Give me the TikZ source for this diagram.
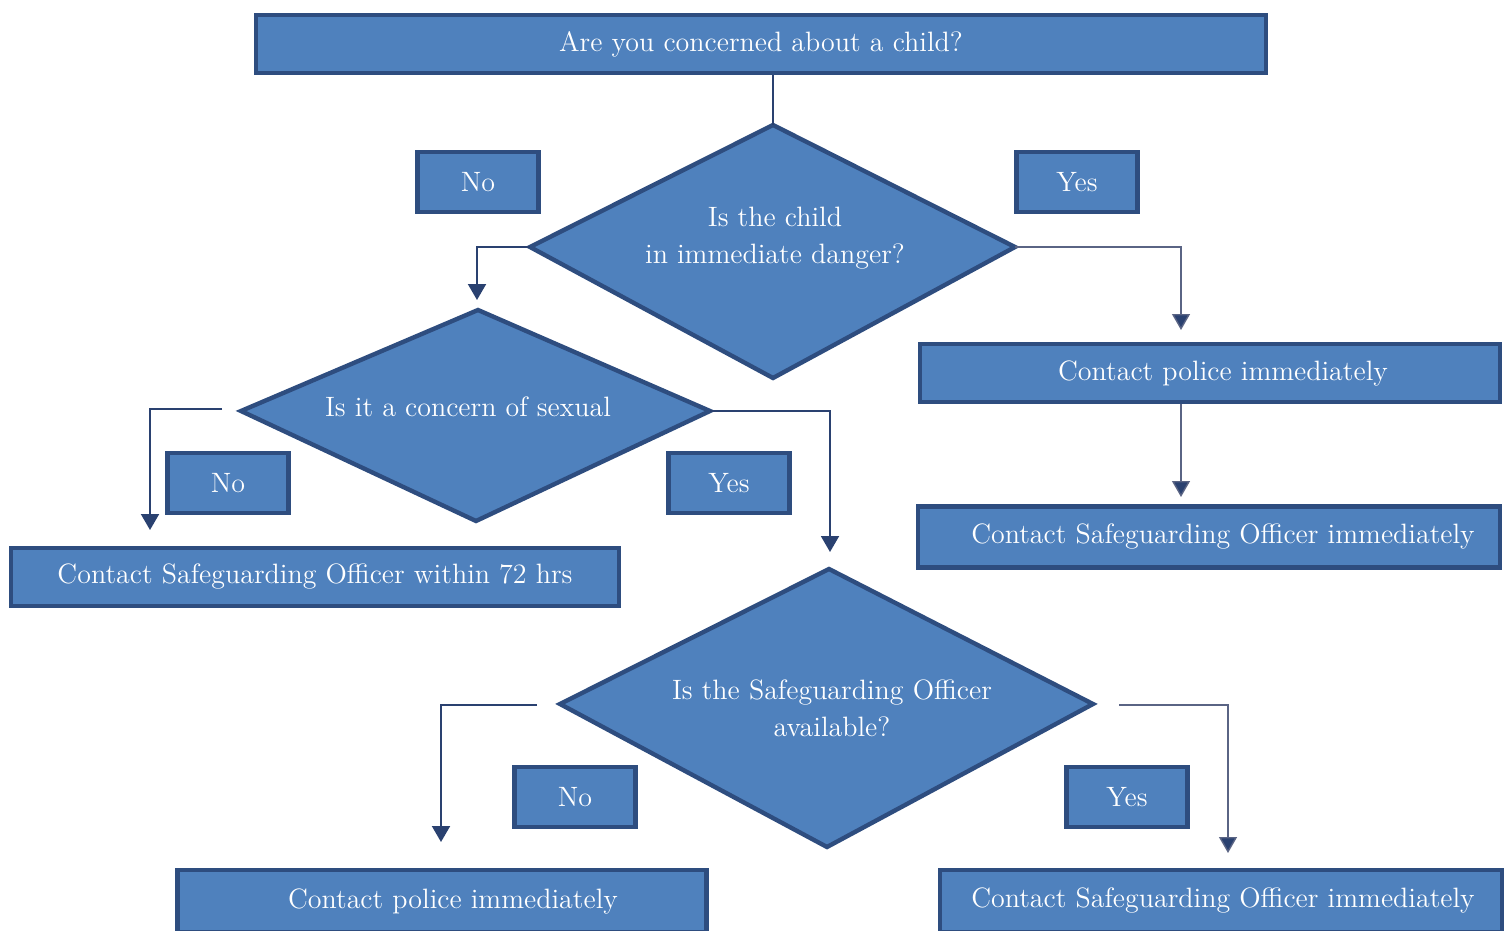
\documentclass[tikz,border=0pt]{standalone}
\usetikzlibrary{arrows.meta,calc}
\definecolor{boxfill}{HTML}{4F81BD}
\definecolor{boxline}{HTML}{2E4D7F}
\definecolor{conn}{HTML}{2A4170}
\definecolor{thinconn}{HTML}{5A6484}
\tikzset{
  box/.style={draw=boxline, fill=boxfill, line width=2.3pt, text=white, inner sep=0pt, font=\fontsize{14}{18.5}\selectfont, align=center},
  lbl/.style={box, minimum width=60.5pt, minimum height=30pt},
  dia/.style={draw=boxline, fill=boxfill, line width=2.2pt, line join=miter},
  dtext/.style={text=white, font=\fontsize{14}{18.5}\selectfont, align=center, inner sep=0pt},
  arr/.style={draw=conn, line width=1pt, -{Triangle[width=9pt,length=8pt]}},
  thinarr/.style={draw=thinconn, line width=0.7pt, -{Triangle[width=9pt,length=8pt,fill=conn]}},
  plain/.style={draw=conn, line width=1pt}
}
\begin{document}
\begin{tikzpicture}[x=0.5pt,y=-0.5pt]
\useasboundingbox (0,0) rectangle (1504,931);
% boxes
\node[box, minimum width=505pt, minimum height=29pt] (top) at (761,44) {Are you concerned about a child?};
\node[box, minimum width=290pt, minimum height=29pt] (cp1) at (1210,373) {\hspace{13pt}Contact police immediately};
\node[box, minimum width=291pt, minimum height=30.5pt] (cso1) at (1209,537) {\hspace{14pt}Contact Safeguarding Officer immediately};
\node[box, minimum width=304pt, minimum height=29pt] (c72) at (315,577) {Contact Safeguarding Officer within 72 hrs};
\node[box, minimum width=264.5pt, minimum height=31pt] (cp2) at (442,901) {\hspace{11pt}\raisebox{1.5pt}{Contact police immediately}};
\node[box, minimum width=281pt, minimum height=31pt] (cso2) at (1221,901) {\hspace{2pt}\raisebox{1.5pt}{Contact Safeguarding Officer immediately}};
% labels
\node[lbl] (no1) at (478,182) {No};
\node[lbl] (yes1) at (1077,182) {Yes};
\node[lbl] (no2) at (228,483) {No};
\node[lbl] (yes2) at (729,483) {Yes};
\node[lbl] (no3) at (575,797) {No};
\node[lbl] (yes3) at (1127,797) {Yes};
% diamonds
\coordinate (d1t) at (773,125); \coordinate (d1r) at (1015,247);
\coordinate (d1b) at (773,378); \coordinate (d1l) at (530,247);
\draw[dia] (d1t) -- (d1r) -- (d1b) -- (d1l) -- cycle;
\node[dtext] (d1) at (775,238) {Is the child\\in immediate danger?};
\coordinate (d2t) at (478,310); \coordinate (d2r) at (710,411);
\coordinate (d2b) at (476,521); \coordinate (d2l) at (241,411);
\draw[dia] (d2t) -- (d2r) -- (d2b) -- (d2l) -- cycle;
\node[dtext] (d2) at (468,407) {Is it a concern of sexual};
\coordinate (d3t) at (829,569); \coordinate (d3r) at (1093,704);
\coordinate (d3b) at (827,847); \coordinate (d3l) at (560,704);
\draw[dia] (d3t) -- (d3r) -- (d3b) -- (d3l) -- cycle;
\node[dtext] (d3) at (832,708) {Is the Safeguarding Officer\\available?};
% connectors
\draw[plain] (top.south -| d1t) -- (d1t);
\draw[arr] (d1l) -| ($(d2t)+(-1,-10)$);
\coordinate (a1) at (1181,330);
\draw[thinarr] (d1r) -| (a1);
\coordinate (a2) at (1181,497);
\draw[thinarr] (cp1.south -| a2) -- (a2);
\coordinate (s2) at (222,409);
\coordinate (a3) at (150,530);
\draw[arr] (s2) -| (a3);
\coordinate (a4) at (830,552);
\draw[plain, -{Triangle[width=9pt,length=8pt]}] (d2r) -| (a4);
\coordinate (s3) at (537,705);
\coordinate (a5) at (441,842);
\draw[arr] (s3) -| (a5);
\coordinate (s4) at (1119,705);
\coordinate (a6) at (1228,853);
\draw[thinarr] (s4) -| (a6);
\end{tikzpicture}
\end{document}
